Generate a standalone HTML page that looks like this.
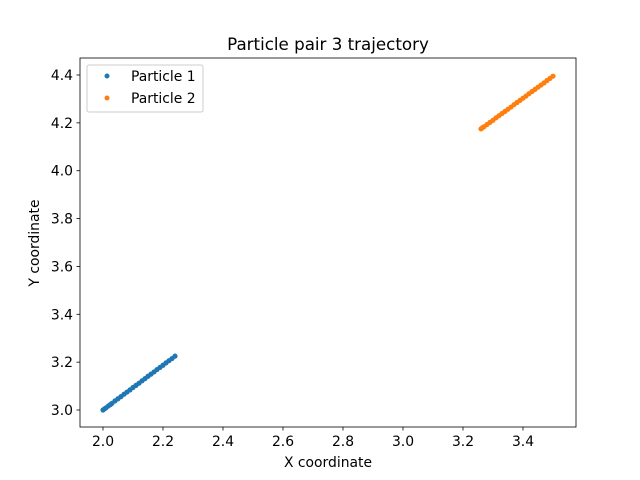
<!DOCTYPE html>
<html><head><meta charset="utf-8"><style>
body{margin:0;background:#fff;}
svg{display:block;font-family:"DejaVu Sans","Liberation Sans",sans-serif;}
</style></head><body>
<svg id="chart" width="640" height="480">
<rect x="0" y="0" width="640" height="480" fill="#fff"/>
<text x="328" y="50" font-size="16.7" text-anchor="middle">Particle pair 3 trajectory</text>
<g id="axes"></g>
<g id="series"></g>
<rect x="80" y="58" width="496" height="369" fill="none" stroke="#000" stroke-width="0.8"/>
<text x="328" y="467" font-size="13.9" text-anchor="middle">X coordinate</text>
<text x="39" y="243" font-size="13.9" text-anchor="middle" transform="rotate(-90 39 243)">Y coordinate</text>
<g>
<rect x="87" y="65" width="116" height="47" rx="2" fill="#fff" fill-opacity="0.8" stroke="#ccc" stroke-width="1"/>
<g>
<circle cx="107" cy="76" r="2.5" fill="#1f77b4"/>
<text x="131" y="81" font-size="13.9">Particle 1</text></g>
<g>
<circle cx="107" cy="98" r="2.5" fill="#ff7f0e"/>
<text x="131" y="103" font-size="13.9">Particle 2</text></g>
</g>
</svg>
<script>
const xTicks=[2.0,2.2,2.4,2.6,2.8,3.0,3.2,3.4];
const yTicks=[3.0,3.2,3.4,3.6,3.8,4.0,4.2,4.4];
const p1X=[2.0,2.005,2.01,2.018,2.025,2.03,2.04,2.05,2.06,2.07,2.08,2.09,2.1,2.11,2.12,2.13,2.14,2.15,2.16,2.17,2.18,2.19,2.2,2.21,2.22,2.23,2.24];
const p1Y=[3.0,3.005,3.009,3.017,3.023,3.028,3.038,3.047,3.056,3.066,3.075,3.084,3.094,3.103,3.112,3.122,3.131,3.141,3.15,3.159,3.169,3.178,3.187,3.197,3.206,3.215,3.225];
const p2X=[3.26,3.265,3.27,3.28,3.29,3.3,3.31,3.32,3.33,3.34,3.35,3.36,3.37,3.38,3.39,3.4,3.41,3.42,3.43,3.44,3.45,3.46,3.47,3.48,3.49,3.5];
const p2Y=[4.175,4.18,4.184,4.193,4.202,4.211,4.221,4.23,4.239,4.248,4.257,4.266,4.276,4.285,4.294,4.303,4.312,4.322,4.331,4.34,4.349,4.358,4.367,4.377,4.386,4.395];
const NS="http://www.w3.org/2000/svg";
function sx(v){return 103+(v-2.0)*300;}
function sy(v){return 410-(v-3.0)*(410-75)/1.4;}
const axes=document.getElementById('axes');
function mk(tag,attrs,parent){const e=document.createElementNS(NS,tag);for(const k in attrs)e.setAttribute(k,attrs[k]);parent.appendChild(e);return e;}
xTicks.forEach(t=>{
  const g=mk('g',{},axes);
  
  
  mk('line',{x1:sx(t),x2:sx(t),y1:427,y2:430.5,stroke:'#000','stroke-width':0.8},g);
  const tx=mk('text',{x:sx(t),y:446,'font-size':13.9,'text-anchor':'middle'},g);tx.textContent=t.toFixed(1);
});
yTicks.forEach(t=>{
  const g=mk('g',{},axes);
  
  
  mk('line',{x1:76.5,x2:80,y1:sy(t),y2:sy(t),stroke:'#000','stroke-width':0.8},g);
  const tx=mk('text',{x:73,y:sy(t)+5,'font-size':13.9,'text-anchor':'end'},g);tx.textContent=t.toFixed(1);
});
const series=document.getElementById('series');
function draw(xs,ys,color,name){
  const g=mk('g',{},series);
  
  
  xs.forEach((x,i)=>{
    const c=mk('circle',{cx:sx(x),cy:sy(ys[i]),r:2.6,fill:color},g);
    
    
  });
}
draw(p1X,p1Y,'#1f77b4','series-particle-1');
draw(p2X,p2Y,'#ff7f0e','series-particle-2');
</script>
</body></html>
